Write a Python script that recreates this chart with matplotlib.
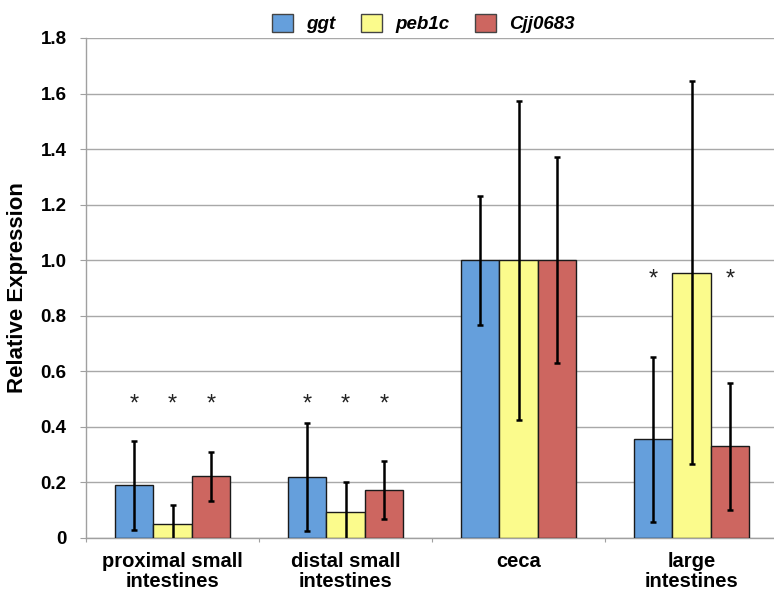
import matplotlib
matplotlib.use("Agg")
import matplotlib.pyplot as plt
import numpy as np

categories = ["proximal small\nintestines", "distal small\nintestines", "ceca", "large\nintestines"]
series = ["ggt", "peb1c", "Cjj0683"]
ggt = [0.19, 0.22, 1.0, 0.355]
peb1c = [0.052, 0.093, 1.0, 0.955]
cjj = [0.223, 0.173, 1.0, 0.330]
ggt_err = [0.16, 0.195, 0.233, 0.296]
peb1c_err = [0.067, 0.11, 0.575, 0.69]
cjj_err = [0.088, 0.103, 0.371, 0.228]
# significance markers: (category index, series index)
stars = [(0, 0), (0, 1), (0, 2), (1, 0), (1, 1), (1, 2), (3, 0), (3, 2)]
star_y = [0.48, 0.48, 0.48, 0.48, 0.48, 0.48, 0.93, 0.93]
yticks = [0, 0.2, 0.4, 0.6, 0.8, 1.0, 1.2, 1.4, 1.6, 1.8]
ytick_labels = ["0", "0.2", "0.4", "0.6", "0.8", "1.0", "1.2", "1.4", "1.6", "1.8"]

colors = ["#659fdc", "#fbfb8c", "#cd6660"]
plt.rcParams['font.family'] = ['Liberation Sans', 'DejaVu Sans']

fig = plt.figure(figsize=(7.74, 5.95), dpi=100)
ax = fig.add_axes([86/774, 1-538/595, (778-86)/774, 500/595])

w = 0.222
centers = np.arange(len(categories)) + 0.5
vals = [ggt, peb1c, cjj]
errs = [ggt_err, peb1c_err, cjj_err]
handles = []
for k in range(3):
    xs = centers + (k - 1) * w
    b = ax.bar(xs, vals[k], width=w, color=colors[k], edgecolor="#1a1a1a", linewidth=1.0, zorder=3, label=series[k])
    ax.errorbar(xs, vals[k], yerr=errs[k], fmt="none", ecolor="black", elinewidth=1.8, capsize=2.5, capthick=1.8, zorder=4)
    handles.append(b)

for (ci, si), yy in zip(stars, star_y):
    ax.text(centers[ci] + (si - 1) * w, yy, "*", ha="center", va="center", fontsize=17, color="#222222", zorder=5)

ax.set_xlim(0, 4)
ax.set_ylim(0, 1.8)
ax.set_yticks(yticks)
ax.set_yticklabels(ytick_labels, fontsize=13.5, fontweight="bold")
ax.yaxis.grid(True, color="#a8a8a8", linewidth=1.0, zorder=0)
ax.set_axisbelow(True)
ax.set_xticks([0, 1, 2, 3, 4])
ax.set_xticklabels([])
ax.set_xticks(centers, minor=True)
ax.set_xticklabels(categories, minor=True, fontsize=14.5, fontweight="bold", linespacing=1.05)
ax.tick_params(axis="x", which="minor", length=0, pad=10)
ax.tick_params(axis="x", which="major", length=3, color="#a0a0a0")
ax.tick_params(axis="y", length=4, color="#a0a0a0", pad=10)
for s in ["top", "right"]:
    ax.spines[s].set_visible(False)
for s in ["left", "bottom"]:
    ax.spines[s].set_color("#a0a0a0")
    ax.spines[s].set_linewidth(1.0)
ax.set_ylabel("Relative Expression", fontsize=16, fontweight="bold", labelpad=9)

leg = fig.legend(handles=handles, labels=series, loc="center", bbox_to_anchor=(0.547, 0.96), ncol=3, frameon=False,
                 prop={"weight": "bold", "style": "italic", "size": 13.5}, handlelength=1.1, handleheight=1.1,
                 columnspacing=1.4, handletextpad=0.7)
for h in leg.legend_handles:
    h.set_edgecolor("#444444")

fig.savefig("out.png", dpi=100)
